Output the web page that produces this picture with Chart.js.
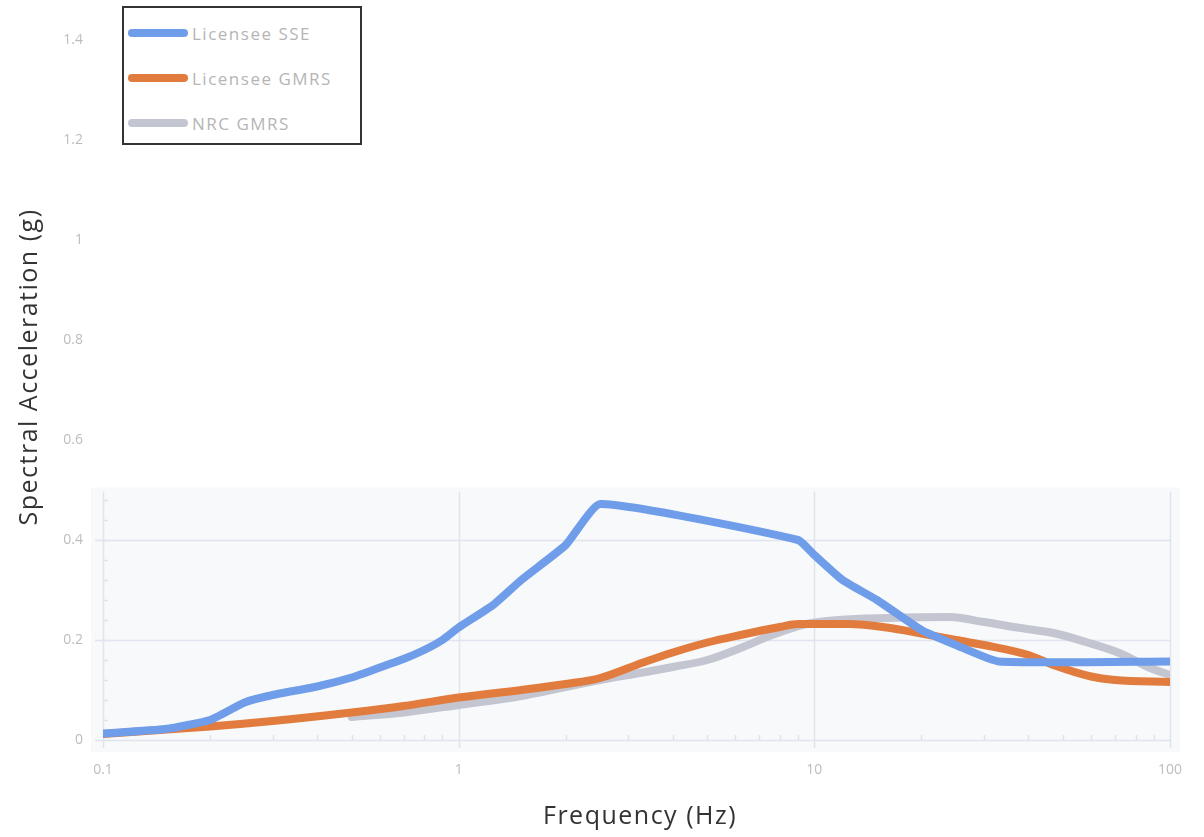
<!DOCTYPE html>
<html>
<head>
<meta charset="utf-8">
<script src="https://cdn.jsdelivr.net/npm/chart.js@4.4.1/dist/chart.umd.min.js"></script>
<style>
  html, body { margin: 0; padding: 0; background: #fff; }
  #wrap { position: relative; width: 1204px; height: 837px; }
  #legend {
    position: absolute; left: 122px; top: 6px; width: 240px; height: 139px;
    border: 2px solid #333; background: #fff; box-sizing: border-box;
    font-family: "Open Sans", sans-serif; font-size: 17px; letter-spacing: 1.5px; color: #b5b5b5;
  }
  #legend .row { position: absolute; left: 4px; height: 20px; display: flex; align-items: center; }
  #legend .sw { width: 60px; height: 8px; border-radius: 4px; margin-right: 4px; }
</style>
</head>
<body>
<div id="wrap">
  <canvas id="chart" width="1204" height="837"></canvas>
  <div id="legend"></div>
</div>
<script>
// frequencies (Hz) and spectral acceleration (g)
const sseFreq = [0.1, 0.15, 0.2, 0.25, 0.3, 0.4, 0.5, 0.6, 0.7, 0.8, 0.9, 1.0, 1.25, 1.5, 2.0, 2.5, 9.0, 10, 12, 15, 20, 25, 33, 100];
const sseAcc  = [0.013, 0.022, 0.04, 0.075, 0.09, 0.107, 0.125, 0.145, 0.162, 0.18, 0.2, 0.225, 0.27, 0.32, 0.39, 0.472, 0.40, 0.37, 0.32, 0.28, 0.22, 0.19, 0.157, 0.157];

const gmrsFreq = [0.1, 0.2, 0.3, 0.5, 0.7, 1, 1.5, 2, 2.5, 3.3, 4, 5, 6.2, 8, 9, 10, 12.5, 16, 20, 25, 30, 40, 47, 60, 70, 100];
const gmrsAcc  = [0.012, 0.027, 0.038, 0.055, 0.068, 0.085, 0.1, 0.112, 0.124, 0.155, 0.175, 0.195, 0.21, 0.226, 0.232, 0.232, 0.232, 0.225, 0.213, 0.2, 0.19, 0.17, 0.15, 0.127, 0.12, 0.116];

const nrcFreq = [0.5, 0.7, 1, 1.5, 2, 2.5, 3.3, 4, 5, 6.2, 7.6, 9.5, 11.7, 16, 24, 30, 38, 47, 58, 72, 88, 100];
const nrcAcc  = [0.046, 0.055, 0.07, 0.088, 0.106, 0.12, 0.135, 0.146, 0.16, 0.184, 0.21, 0.232, 0.24, 0.244, 0.246, 0.236, 0.224, 0.214, 0.196, 0.174, 0.144, 0.13];

const seriesNames = ['Licensee SSE', 'Licensee GMRS', 'NRC GMRS'];
const seriesColors = ['#6f9de9', '#e27c3e', '#c3c5d1'];
const xTicks = [0.1, 1, 10, 100];
const xTitle = 'Frequency (Hz)';
const yTitle = 'Spectral Acceleration (g)';

function pts(xs, ys) {
    return xs.map((x, i) => ({ x: x, y: ys[i] }));
}

const gridColor = '#dfe4ef';

// faint panel, grid and minor ticks in the lower part of the plot
const panelPlugin = {
    id: 'panel',
    beforeDatasetsDraw(chart) {
        const ctx = chart.ctx;
        const x = chart.scales.x, y = chart.scales.y;
        const top = y.getPixelForValue(0.505);
        const bottom = y.getPixelForValue(0);
        ctx.save();
        ctx.fillStyle = '#f8f9fa';
        ctx.fillRect(x.left - 12, top, x.right - x.left + 22, bottom - top + 12);
        ctx.strokeStyle = gridColor;
        ctx.lineWidth = 1.5;
        // horizontal grid
        [0, 0.2, 0.4].forEach(v => {
            const py = Math.round(y.getPixelForValue(v)) + 0.5;
            ctx.beginPath(); ctx.moveTo(x.left - 8, py); ctx.lineTo(x.right, py); ctx.stroke();
        });
        // vertical grid
        xTicks.forEach(v => {
            const px = Math.round(x.getPixelForValue(v)) + 0.5;
            ctx.beginPath(); ctx.moveTo(px, top + 4); ctx.lineTo(px, bottom + 8); ctx.stroke();
        });
        // minor y ticks
        for (let v = 0.04; v < 0.5; v += 0.04) {
            const py = Math.round(y.getPixelForValue(v)) + 0.5;
            ctx.beginPath(); ctx.moveTo(x.left, py); ctx.lineTo(x.left + 5, py); ctx.stroke();
        }
        // minor x ticks
        [0.1, 1, 10].forEach(d => {
            for (let k = 2; k <= 9; k++) {
                const px = Math.round(x.getPixelForValue(d * k)) + 0.5;
                ctx.beginPath(); ctx.moveTo(px, bottom); ctx.lineTo(px, bottom - 5); ctx.stroke();
            }
        });
        ctx.restore();
    },
    afterDraw(chart) {
        // axis titles, drawn by hand so they can sit where the original has them
        const ctx = chart.ctx;
        ctx.save();
        ctx.fillStyle = '#333';
        ctx.font = '25px "Open Sans"';
        ctx.letterSpacing = '1.5px';
        ctx.textAlign = 'center';
        ctx.textBaseline = 'middle';
        ctx.fillText(xTitle, 640, 817);
        ctx.translate(30, 367);
        ctx.rotate(-Math.PI / 2);
        ctx.fillText(yTitle, 0, 0);
        ctx.restore();
    }
};

const ctx = document.getElementById('chart').getContext('2d');
const chart = new Chart(ctx, {
    type: 'line',
    data: {
        datasets: [
            { label: seriesNames[0], data: pts(sseFreq, sseAcc), borderColor: seriesColors[0], tension: 0.15 },
            { label: seriesNames[1], data: pts(gmrsFreq, gmrsAcc), borderColor: seriesColors[1], cubicInterpolationMode: 'monotone' },
            { label: seriesNames[2], data: pts(nrcFreq, nrcAcc), borderColor: seriesColors[2], cubicInterpolationMode: 'monotone' }
        ]
    },
    options: {
        responsive: false,
        animation: false,
        layout: { padding: { top: 40, right: 34, left: 0, bottom: 0 } },
        elements: {
            point: { radius: 0 },
            line: { borderWidth: 8, borderCapStyle: 'round', borderJoinStyle: 'round', fill: false }
        },
        plugins: { legend: { display: false }, tooltip: { enabled: false } },
        scales: {
            x: {
                type: 'logarithmic',
                min: 0.1, max: 100,
                afterBuildTicks: s => { s.ticks = xTicks.map(v => ({ value: v })); },
                afterFit: s => { s.height = 97; },
                grid: { display: false, drawTicks: false },
                border: { display: false },
                ticks: {
                    padding: 22,
                    color: '#bdbdbd',
                    font: { family: 'Open Sans', size: 14 },
                    callback: v => String(v)
                }
            },
            y: {
                min: 0, max: 1.4,
                afterFit: s => { s.width = 103; },
                grid: { display: false, drawTicks: false },
                border: { display: false },
                ticks: {
                    stepSize: 0.2, padding: 20,
                    color: '#bdbdbd',
                    font: { family: 'Open Sans', size: 14 },
                    callback: v => String(Math.round(v * 10) / 10)
                }
            }
        }
    },
    plugins: [panelPlugin]
});

// legend box built from the datasets
const legend = document.getElementById('legend');
chart.data.datasets.forEach((ds, i) => {
    const row = document.createElement('div');
    row.className = 'row';
    row.style.top = (15 + i * 45) + 'px';
    row.innerHTML = '<span class="sw" style="background:' + ds.borderColor + '"></span>' + ds.label;
    legend.appendChild(row);
});
</script>
</body>
</html>
